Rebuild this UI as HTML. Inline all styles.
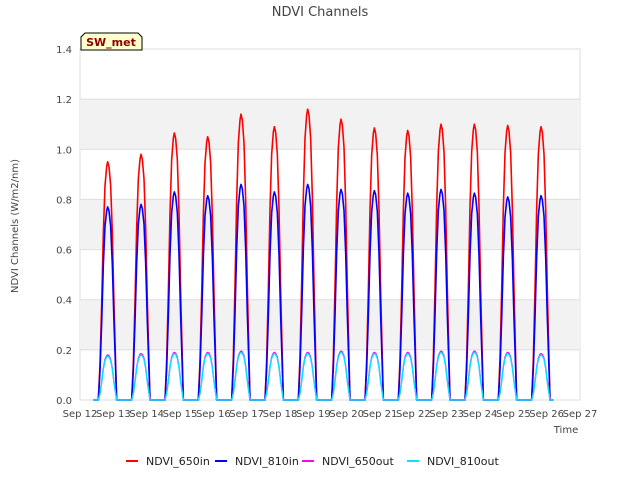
<!DOCTYPE html>
<html><head><meta charset="utf-8"><style>
body{margin:0;background:#fff;font-family:"Liberation Sans","DejaVu Sans",sans-serif}
svg text{font-family:"DejaVu Sans","Liberation Sans",sans-serif}
</style></head><body>
<svg id="c" width="640" height="480" xmlns="http://www.w3.org/2000/svg">
<rect width="640" height="480" fill="#fff"/>
<text x="320" y="16" text-anchor="middle" font-size="13" fill="#444">NDVI Channels</text>
<g id="plot"></g>
<text transform="translate(18,226) rotate(-90)" text-anchor="middle" font-size="10" fill="#444">NDVI Channels (W/m2/nm)</text>
<text x="566" y="433" text-anchor="middle" font-size="10" fill="#444">Time</text>
<g>
<path d="M81,50 L81,37 L85,33 L138,33 L142,37 L142,50 Z" fill="#ffffcc" stroke="#000" stroke-width="1"/>
<text x="111" y="46" text-anchor="middle" font-size="11" font-weight="bold" fill="#8b0000">SW_met</text>
</g>
<g id="legend"></g>
</svg>
<script>
const dayTicks=["Sep 12","Sep 13","Sep 14","Sep 15","Sep 16","Sep 17","Sep 18","Sep 19","Sep 20","Sep 21","Sep 22","Sep 23","Sep 24","Sep 25","Sep 26","Sep 27"];
const yTicks=[0,0.2,0.4,0.6,0.8,1.0,1.2,1.4];
const peak650in=[0.95,0.98,1.065,1.05,1.14,1.09,1.16,1.12,1.085,1.075,1.10,1.10,1.095,1.09];
const peak810in=[0.77,0.78,0.83,0.815,0.86,0.83,0.86,0.84,0.835,0.825,0.84,0.825,0.81,0.815];
const peak650out=[0.18,0.185,0.19,0.19,0.195,0.19,0.19,0.195,0.19,0.19,0.195,0.195,0.19,0.185];
const peak810out=[0.175,0.18,0.185,0.185,0.19,0.185,0.185,0.19,0.185,0.185,0.19,0.19,0.185,0.18];
const profileOffsets=[0.55,0.6,0.65,0.7,0.75,0.8,0.83,0.87,0.92,0.97,1.02,1.07,1.1];
const profileFrac=[0,0.15,0.4,0.7,0.9,0.98,1,0.98,0.9,0.7,0.4,0.15,0];
const NS="http://www.w3.org/2000/svg";
const X0=80,X1=580,Y0=400,Y1=49;
const xs=d=>X0+d*(X1-X0)/15;
const ys=v=>Y0-v*(Y0-Y1)/1.4;
const plot=document.getElementById('plot');
function mk(t,a,p){const e=document.createElementNS(NS,t);for(const k in a)e.setAttribute(k,a[k]);(p||plot).appendChild(e);return e;}
mk('rect',{x:X0,y:Y1,width:X1-X0,height:Y0-Y1,fill:'#fff',stroke:'#ddd'});
for(let i=0;i<yTicks.length-1;i++){
 if(i%2===1){const b=mk('rect',{x:X0,y:ys(yTicks[i+1]),width:X1-X0,height:ys(yTicks[i])-ys(yTicks[i+1]),fill:'#f2f2f2'});
 }
}
yTicks.forEach(v=>{
 const g=mk('line',{x1:X0,x2:X1,y1:ys(v),y2:ys(v),stroke:'#ddd'});
 
 const t=mk('text',{x:X0-8,y:ys(v)+4,'text-anchor':'end','font-size':10,fill:'#444'});t.textContent=v.toFixed(1);
 
});
dayTicks.forEach((s,i)=>{
 const t=mk('text',{x:xs(i),y:Y0+17,'text-anchor':'middle','font-size':10,fill:'#444'});t.textContent=s;
 
});
function series(peaks,color,name,w){
 let pts=[[xs(0.4),ys(0)]];
 peaks.forEach((p,d)=>{profileOffsets.forEach((o,k)=>pts.push([xs(d+o),ys(p*profileFrac[k])]));});
 pts.push([xs(14.2),ys(0)]);
 const l=mk('polyline',{points:pts.map(q=>q.join(',')).join(' '),fill:'none',stroke:color,'stroke-width':w,'stroke-linejoin':'round'});
 
}
series(peak650in,'#ff0000','ndvi-650in-line',1.6);
series(peak810in,'#0000ff','ndvi-810in-line',1.6);
series(peak650out,'#ff00ff','ndvi-650out-line',1.4);
series(peak810out,'#00e5ff','ndvi-810out-line',1.4);
const leg=document.getElementById('legend');
const items=[["NDVI_650in","#ff0000"],["NDVI_810in","#0000ff"],["NDVI_650out","#ff00ff"],["NDVI_810out","#00e5ff"]];
const lx=[126,215,302,407];
items.forEach((it,i)=>{
 const g=mk('g',{},leg);
 
 mk('line',{x1:lx[i],x2:lx[i]+12,y1:461,y2:461,stroke:it[1],'stroke-width':2},g);
 const t=mk('text',{x:lx[i]+20,y:465,'font-size':11,fill:'#222'},g);t.textContent=it[0];
});
</script>
</body></html>
